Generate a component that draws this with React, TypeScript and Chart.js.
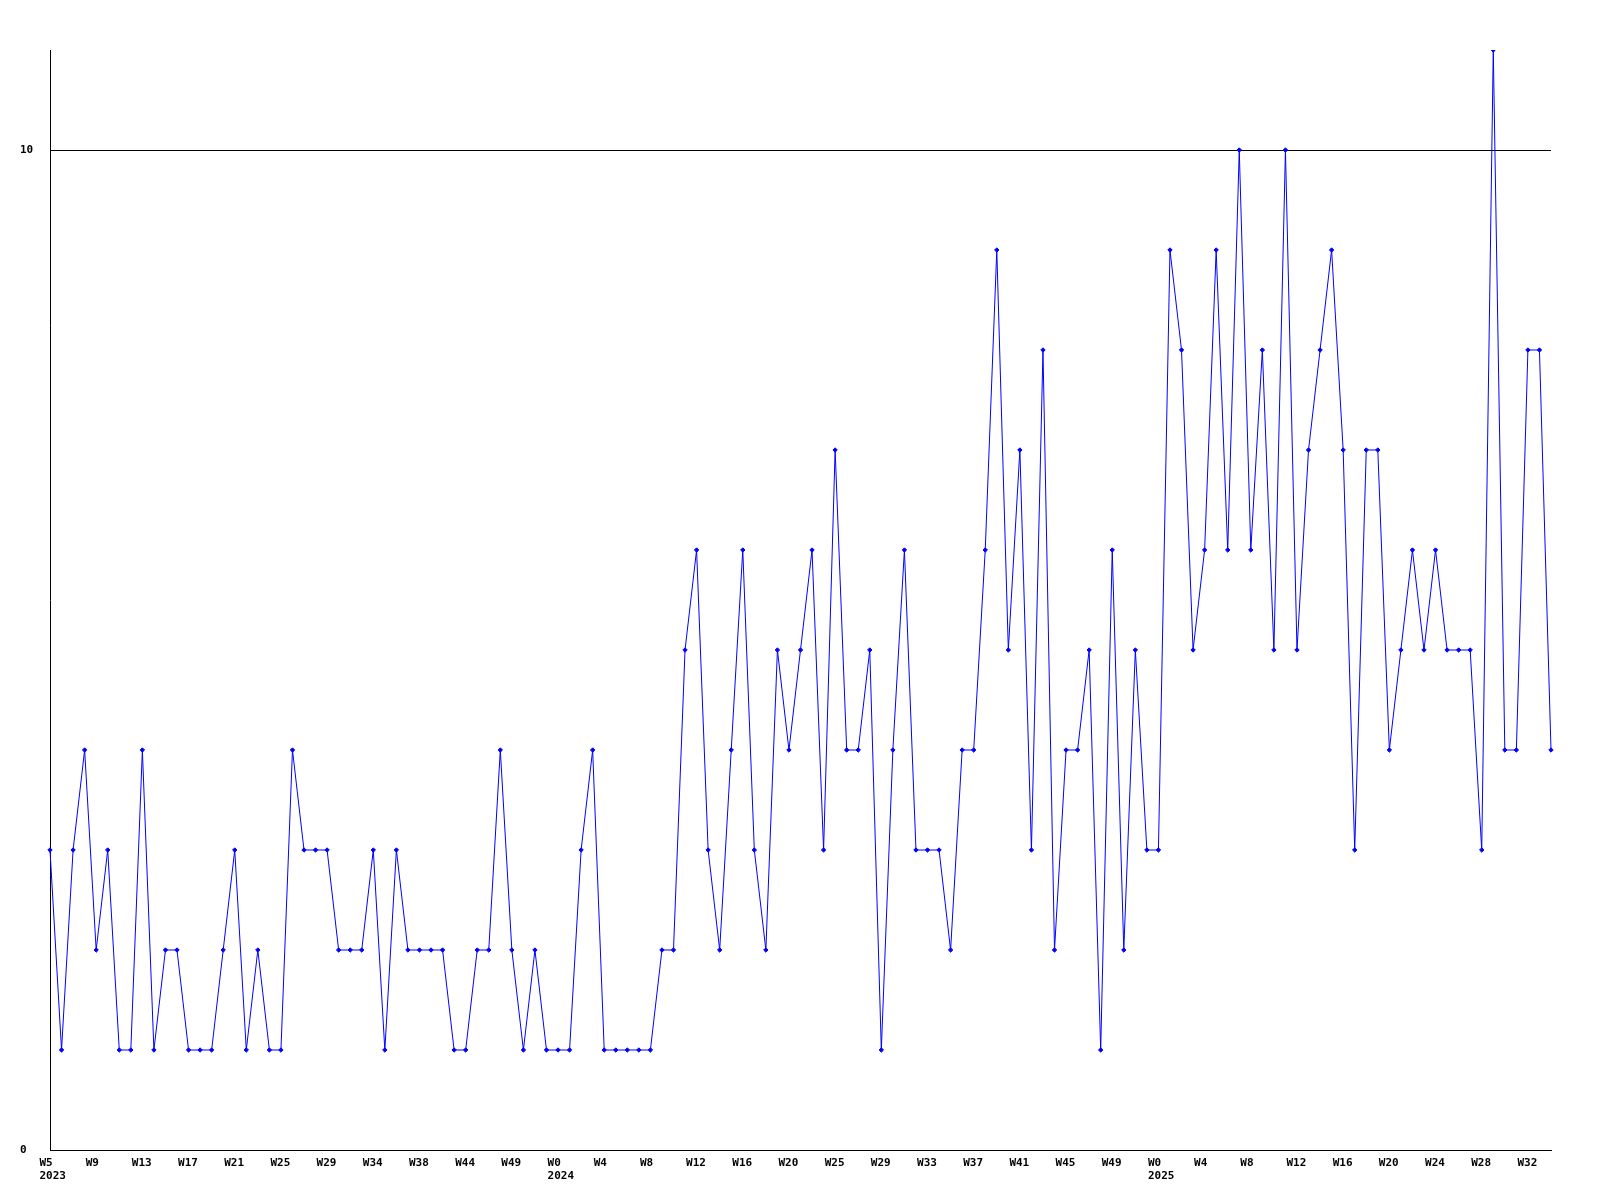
import React, { useEffect, useRef } from "react";
import { Chart, registerables } from "chart.js";

Chart.register(...registerables);

// Weekly values, one per point (W5 2023 … W34 2025)
const weeklyCounts: number[] = [
  3, 1, 3, 4, 2, 3, 1, 1, 4, 1,
  2, 2, 1, 1, 1, 2, 3, 1, 2, 1,
  1, 4, 3, 3, 3, 2, 2, 2, 3, 1,
  3, 2, 2, 2, 2, 1, 1, 2, 2, 4,
  2, 1, 2, 1, 1, 1, 3, 4, 1, 1,
  1, 1, 1, 2, 2, 5, 6, 3, 2, 4,
  6, 3, 2, 5, 4, 5, 6, 3, 7, 4,
  4, 5, 1, 4, 6, 3, 3, 3, 2, 4,
  4, 6, 9, 5, 7, 3, 8, 2, 4, 4,
  5, 1, 6, 2, 5, 3, 3, 9, 8, 5,
  6, 9, 6, 10, 6, 8, 5, 10, 5, 7,
  8, 9, 7, 3, 7, 7, 4, 5, 6, 5,
  6, 5, 5, 5, 3, 11, 4, 4, 8, 8,
  4,
];

// Tick labels, shown on every 4th point
const weekTickLabels: string[] = [
  "W5", "W9", "W13", "W17", "W21", "W25", "W29", "W34", "W38", "W44", "W49",
  "W0", "W4", "W8", "W12", "W16", "W20", "W25", "W29", "W33", "W37", "W41", "W45", "W49",
  "W0", "W4", "W8", "W12", "W16", "W20", "W24", "W28", "W32",
];
// Year shown under given tick-label index
const yearTickIndex: number[] = [0, 11, 24];
const yearTickText: string[] = ["2023", "2024", "2025"];

const tickEvery = 4;
const yTickValues: number[] = [0, 10];
const yMin = 0;
const yMax = 11;

const categories: string[] = weeklyCounts.map((_, i) => String(i));

const FONT = { family: "'DejaVu Sans Mono', monospace", size: 11, weight: "bold" as const, lineHeight: 13 / 11 };

export default function App() {
  const ref = useRef<HTMLCanvasElement | null>(null);

  useEffect(() => {
    if (!ref.current) return;
    const chart = new Chart(ref.current, {
      type: "line",
      data: {
        labels: categories,
        datasets: [
          {
            data: weeklyCounts,
            borderColor: "#0000ff",
            backgroundColor: "#0000ff",
            borderWidth: 1,
            tension: 0,
            fill: false,
            pointStyle: "rectRot",
            pointRadius: 2.2,
            pointBorderWidth: 1,
            pointBackgroundColor: "#0000ff",
            pointBorderColor: "#0000ff",
          },
        ],
      },
      options: {
        responsive: false,
        animation: false,
        events: [],
        layout: { padding: { left: 12, right: 49, top: 42, bottom: 10 } },
        plugins: { legend: { display: false }, tooltip: { enabled: false } },
        scales: {
          x: {
            type: "category",
            offset: false,
            grid: { display: false, drawTicks: false },
            border: { display: true, color: "#000", width: 1 },
            ticks: {
              autoSkip: false,
              maxRotation: 0,
              minRotation: 0,
              align: "start",
              labelOffset: -10.5,
              padding: 7,
              color: "#000",
              font: FONT,
              callback: (_v: any, i: number) => {
                if (i % tickEvery !== 0) return "";
                const k = i / tickEvery;
                const w = weekTickLabels[k];
                if (w === undefined) return "";
                const y = yearTickIndex.indexOf(k);
                return y >= 0 ? [w, yearTickText[y]] : w;
              },
            },
            afterFit: (s: any) => {
              s.height = 40;
            },
          },
          y: {
            min: yMin,
            max: yMax,
            grid: { display: true, drawTicks: false, color: "#000", lineWidth: 1 },
            border: { display: true, color: "#000", width: 1 },
            ticks: {
              crossAlign: "far",
              padding: 0,
              color: "#000",
              font: FONT,
              callback: (v: any) => String(v),
            },
            afterBuildTicks: (s: any) => {
              s.ticks = yTickValues.map((v) => ({ value: v }));
            },
            afterFit: (s: any) => {
              s.width = 30;
            },
          },
        },
      },
    });
    return () => chart.destroy();
  }, []);

  return (
    <div style={{ width: 1592, height: 1192 }}>
      <canvas ref={ref} width={1592} height={1192} style={{ display: "block" }} />
    </div>
  );
}
